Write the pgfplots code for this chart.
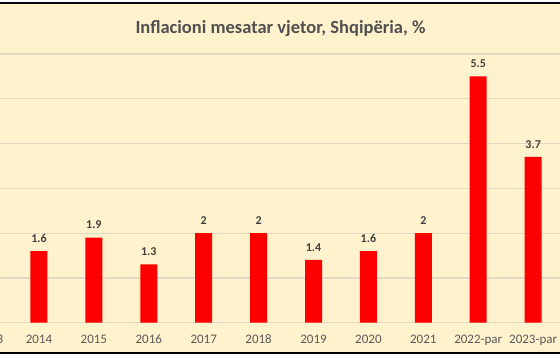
\documentclass[border=0pt]{standalone}
\usepackage{pgfplots}
\pgfplotsset{compat=1.18}
\usepackage{fontspec}
\setmainfont{Carlito}
\definecolor{cream}{RGB}{255,242,204}
\definecolor{gridc}{RGB}{224,217,196}
\definecolor{titlec}{RGB}{80,80,80}
\definecolor{labc}{RGB}{64,64,64}
\definecolor{tickc}{RGB}{89,89,89}
\definecolor{barred}{RGB}{255,0,0}
\begin{document}
\begin{tikzpicture}[x=1pt,y=1pt]
\fill[white] (0,0) rectangle (560,357);
\useasboundingbox (0,0) rectangle (560,357);
\fill[cream] (0,4.5) rectangle (560,352.5);
\begin{scope}
\clip (0,4.5) rectangle (560,352.5);
\begin{axis}[
  at={(-43.4pt,34.3pt)}, anchor=south west,
  scale only axis, width=604pt, height=268.8pt,
  xmin=-0.5, xmax=10.5, ymin=0, ymax=6,
  axis line style={draw=none},
  ytick={0,1,2,3,4,5,6}, yticklabels={},
  ymajorgrids, grid style={gridc, line width=1.2pt},
  major tick length=0pt,
  xtick=data,
  xticklabels={\hspace*{12pt}2013,2014,2015,2016,2017,2018,2019,2020,2021,2022-par,2023-par},
  xticklabel style={font=\fontsize{13}{15}\selectfont, text=tickc, anchor=base, yshift=-20.6pt},
  ybar, bar width=17pt,
  nodes near coords,
  /pgf/number format/assume math mode=true,
  every node near coord/.append style={font=\bfseries\fontsize{12}{14}\selectfont, text=labc, anchor=base, yshift=8.7pt},
  clip=false,
]
\addplot[fill=barred, draw=none] coordinates {
(0,1.9) (1,1.6) (2,1.9) (3,1.3) (4,2) (5,2) (6,1.4) (7,1.6) (8,2) (9,5.5) (10,3.7)
};
\end{axis}
\end{scope}
\node[anchor=base, text=titlec, font=\bfseries\fontsize{18.5}{21}\selectfont] at (280.5,323.7) {Inflacioni mesatar vjetor, Shqipëria, \%};
\draw[black, line width=2pt] (0,353.5) -- (560,353.5);
\draw[black, line width=2pt] (0,4) -- (560,4);
\end{tikzpicture}
\end{document}
